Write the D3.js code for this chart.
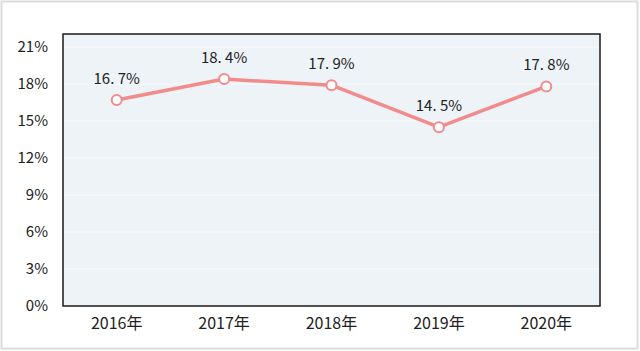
<!DOCTYPE html>
<html lang="zh">
<head>
  <meta charset="UTF-8" />
  <title>Line chart</title>
  <script src="https://cdn.jsdelivr.net/npm/d3@7"></script>
  <style>
    body { margin: 0; background: #fff; }
    text { font-family: "Noto Sans CJK SC", "Noto Sans", sans-serif; fill: #222; }
  </style>
</head>
<body>
  <div id="chart"></div>
  <script>
    // data
    var years = ["2016年", "2017年", "2018年", "2019年", "2020年"];
    var rates = [16.7, 18.4, 17.9, 14.5, 17.8];
    var yTicks = [0, 3, 6, 9, 12, 15, 18, 21];

    var w = 640, h = 351;
    var pLeft = 63, pRight = 600, pTop = 34, pBottom = 306;

    var svg = d3.select("#chart").append("svg")
      .attr("width", w)
      .attr("height", h);

    // outer frame
    svg.append("rect")
      .attr("x", 1.5).attr("y", 1.5)
      .attr("width", w - 4).attr("height", h - 4)
      .attr("fill", "#fff")
      .attr("stroke", "#dcdcdc")
      .attr("stroke-width", 2);

    var x = d3.scaleBand().domain(years).range([pLeft, pRight]);
    var y = d3.scaleLinear().domain([0, 21]).range([pBottom, 47]);

    // plot background
    svg.append("rect")
      .attr("x", pLeft).attr("y", pTop)
      .attr("width", pRight - pLeft).attr("height", pBottom - pTop)
      .attr("fill", "#eef3f8");

    // faint grid
    svg.append("g")
      .selectAll("line")
      .data(yTicks.slice(1))
      .enter()
      .append("line")
      .attr("x1", pLeft).attr("x2", pRight)
      .attr("y1", function(d) { return y(d); })
      .attr("y2", function(d) { return y(d); })
      .attr("stroke", "#ffffff")
      .attr("stroke-opacity", 0.7)
      .attr("stroke-width", 1.2);

    // plot border
    svg.append("rect")
      .attr("x", pLeft).attr("y", pTop)
      .attr("width", pRight - pLeft).attr("height", pBottom - pTop)
      .attr("fill", "none")
      .attr("stroke", "#1a1a1a")
      .attr("stroke-width", 1.5);

    // y axis labels
    var yAxis = d3.axisLeft(y).tickValues(yTicks)
      .tickFormat(function(d) { return d + "%"; })
      .tickSize(0).tickPadding(15);
    var gy = svg.append("g").attr("transform", "translate(" + pLeft + ",0)").call(yAxis);
    gy.select(".domain").remove();
    gy.selectAll("text").attr("font-size", 15).style("font-family", "'Noto Sans CJK SC', sans-serif");

    // x axis labels
    var xAxis = d3.axisBottom(x).tickSize(0).tickPadding(12);
    var gx = svg.append("g").attr("transform", "translate(0," + pBottom + ")").call(xAxis);
    gx.select(".domain").remove();
    gx.selectAll("text").attr("font-size", 16).style("font-family", "'Noto Sans CJK SC', sans-serif");

    var cx = function(d, i) { return x(years[i]) + x.bandwidth() / 2; };

    var line = d3.line()
      .x(function(d, i) { return cx(d, i); })
      .y(function(d) { return y(d); });

    svg.append("path")
      .datum(rates)
      .attr("d", line)
      .attr("fill", "none")
      .attr("stroke", "#f28b8b")
      .attr("stroke-width", 3.5)
      .attr("stroke-linejoin", "round");

    svg.selectAll("circle.pt")
      .data(rates)
      .enter()
      .append("circle")
      .attr("class", "pt")
      .attr("cx", cx)
      .attr("cy", function(d) { return y(d); })
      .attr("r", 5)
      .attr("fill", "#fff")
      .attr("stroke", "#f28b8b")
      .attr("stroke-width", 2);

    svg.selectAll("text.lbl")
      .data(rates)
      .enter()
      .append("text")
      .attr("class", "lbl")
      .attr("x", cx)
      .attr("y", function(d) { return y(d) - 16; })
      .attr("text-anchor", "middle")
      .attr("font-size", 15)
      .text(function(d) { return d.toFixed(1).replace(".", ". ") + "%"; });
  </script>
</body>
</html>
